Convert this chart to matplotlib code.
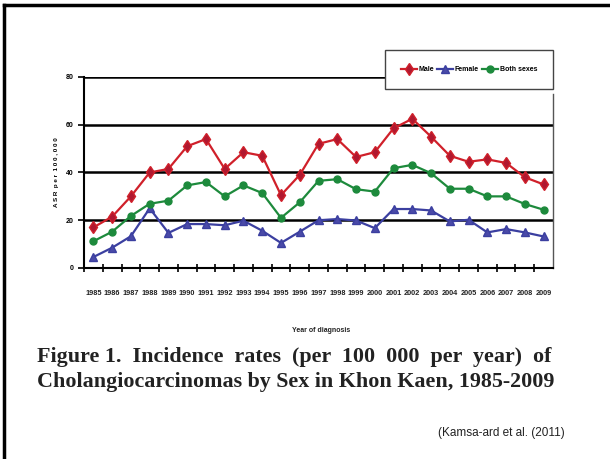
import matplotlib.pyplot as plt

# data
years = list(range(1985, 2010))
male = [17, 21.5, 30, 40, 41.5, 51, 54, 41.5, 48.5, 47, 30.5, 39, 52, 54, 46.5, 48.5,
        58.5, 62.5, 55, 47, 44.5, 45.5, 44, 38, 35]
female = [4.6, 8.5, 13.3, 25, 14.7, 18.4, 18.4, 17.9, 19.8, 15.6, 10.5, 15.2, 20, 20.5, 19.9, 16.7,
          24.7, 24.7, 24.1, 19.5, 20.2, 14.9, 16.3, 14.9, 13.2]
both = [11.2, 15.2, 21.8, 26.9, 28.2, 34.6, 36, 30, 34.6, 31.4, 21, 27.5, 36.5, 37.2, 33, 32,
        41.8, 43.2, 39.7, 33.2, 33.2, 30, 30, 26.8, 24.4]
yticks = [0, 20, 40, 60, 80]

sans = ['Liberation Sans', 'DejaVu Sans']
serif = ['Liberation Serif', 'DejaVu Serif']

fig = plt.figure(figsize=(6.1, 4.59), dpi=100)
W, H = 610, 459

# slide border (left and top only visible)
fig.add_artist(plt.Line2D([4 / W, 4 / W], [0, 1 - 5 / H], color='black', lw=2.5))
fig.add_artist(plt.Line2D([4 / W, 1], [1 - 5 / H, 1 - 5 / H], color='black', lw=2.5))

ax = fig.add_axes([84 / W, 1 - 268 / H, (553 - 84) / W, (268 - 77) / H])
ax.set_xlim(1984.5, 2009.5)
ax.set_ylim(0, 80)

for y in yticks[1:]:
    ax.axhline(y, color='black', lw=1.8, zorder=1)

ax.plot(years, male, color='#d0202a', lw=1.6, marker='d', ms=6.5,
        mfc='#b01830', mec='#d0202a', label='Male', zorder=3)
ax.plot(years, female, color='#3b3fa0', lw=1.6, marker='^', ms=6,
        mfc='#4a4aa8', mec='#3b3fa0', label='Female', zorder=3)
ax.plot(years, both, color='#1d8a3c', lw=1.6, marker='o', ms=5,
        mfc='#1d8a3c', mec='#1d8a3c', label='Both sexes', zorder=3)

ax.spines['top'].set_visible(False)
ax.spines['left'].set_linewidth(1.5)
ax.spines['bottom'].set_linewidth(1.5)
ax.spines['right'].set_linewidth(1.0)
ax.spines['right'].set_color('#555555')
ax.spines['right'].set_bounds(0, 73)

ax.set_yticks(yticks)
ax.set_yticklabels([str(v) for v in yticks], family=sans, fontsize=5, fontweight='bold')
ax.set_xticks([y + 0.5 for y in years[:-1]] + [1984.5])
ax.set_xticklabels([])
ax.tick_params(axis='both', length=4, width=1.2, color='black')
ax.tick_params(axis='x', direction='inout', length=6)

for yr in years:
    ax.text(yr, -10.5, str(yr), ha='center', va='center', family=sans,
            fontsize=5.3, fontweight='bold', color='#222222')

ax.set_ylabel('A S R  p e r  1 0 0 , 0 0 0', family=sans, fontsize=4.5, fontweight='bold',
              labelpad=5)
fig.text(321 / W, 1 - 330 / H, 'Year of diagnosis', ha='center', va='center',
         family=sans, fontsize=5, fontweight='bold', color='#222222')

leg = ax.legend(loc='upper right', bbox_to_anchor=(553 / W, 1 - 50 / H),
                bbox_transform=fig.transFigure, borderaxespad=0, ncol=3, frameon=True,
                fancybox=False, prop={'family': sans, 'size': 5, 'weight': 'bold'},
                handlelength=2.3, columnspacing=0.5, handletextpad=0.2,
                borderpad=2.3, framealpha=1)
leg.get_frame().set_edgecolor('#444444')
leg.get_frame().set_linewidth(1.0)
leg.set_zorder(5)

fig.text(37 / W, 1 - 357 / H, 'Figure 1.  Incidence  rates  (per  100  000  per  year)  of',
         ha='left', va='center', family=serif,
         fontsize=15.8, fontweight='bold', color='#222222')
fig.text(37 / W, 1 - 382 / H, 'Cholangiocarcinomas by Sex in Khon Kaen, 1985-2009',
         ha='left', va='center', family=serif,
         fontsize=15.8, fontweight='bold', color='#222222')
fig.text(438 / W, 1 - 433 / H, '(Kamsa-ard et al. (2011)', ha='left', va='center',
         family=sans, fontsize=8.5, color='#222222')

fig.savefig('out.png', dpi=100)
